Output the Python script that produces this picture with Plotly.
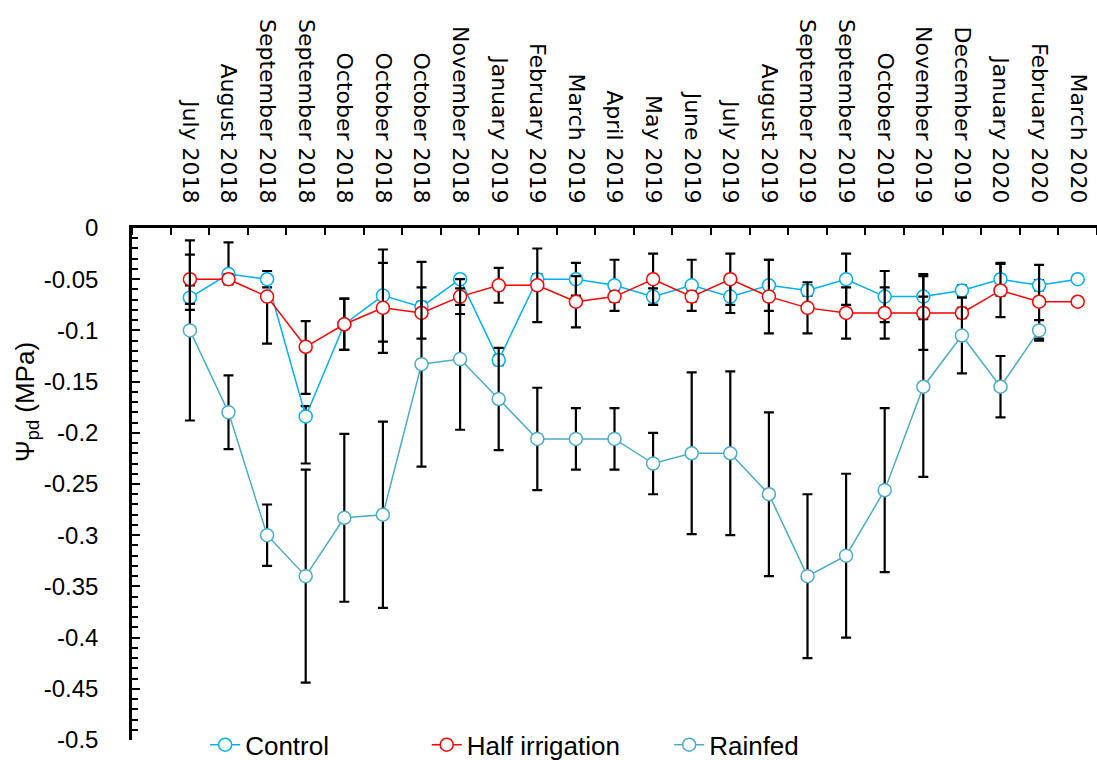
import plotly.graph_objects as go

# Sampling dates (several dates share the same month label)
dates = [
    "July 2018", "August 2018", "September 2018", "September 2018",
    "October 2018", "October 2018", "October 2018", "November 2018",
    "January 2019", "February 2019", "March 2019", "April 2019",
    "May 2019", "June 2019", "July 2019", "August 2019",
    "September 2019", "September 2019", "October 2019", "November 2019",
    "December 2019", "January 2020", "February 2020", "March 2020",
]

# Predawn water potential (MPa)
control = [-0.068, -0.045, -0.050, -0.184, -0.094, -0.066, -0.077, -0.050,
           -0.129, -0.050, -0.050, -0.056, -0.067, -0.056, -0.067, -0.056,
           -0.061, -0.050, -0.067, -0.067, -0.061, -0.050, -0.056, -0.050]
control_err_up = [0.012, 0.031, 0.008, 0.010, 0.025, 0.045, 0.005, 0.003,
                  0.005, 0.005, 0.016, 0.025, 0.008, 0.025, 0.016, 0.025,
                  0.005, 0.025, 0.025, 0.022, 0.005, 0.016, 0.005, 0.0]
control_err_down = [0.012, 0.003, 0.008, 0.046, 0.025, 0.045, 0.005, 0.025,
                    0.005, 0.005, 0.016, 0.025, 0.008, 0.025, 0.016, 0.025,
                    0.005, 0.025, 0.025, 0.022, 0.005, 0.016, 0.005, 0.0]

half_irrigation = [-0.050, -0.050, -0.067, -0.116, -0.094, -0.078, -0.083, -0.067,
                   -0.056, -0.056, -0.072, -0.067, -0.050, -0.067, -0.050, -0.067,
                   -0.078, -0.083, -0.083, -0.083, -0.083, -0.061, -0.072, -0.072]
half_err_up = [0.024, 0.005, 0.002, 0.025, 0.025, 0.044, 0.025, 0.017,
               0.017, 0.036, 0.025, 0.005, 0.025, 0.005, 0.025, 0.036,
               0.025, 0.025, 0.025, 0.036, 0.005, 0.026, 0.036, 0.0]
half_err_down = [0.024, 0.005, 0.046, 0.046, 0.025, 0.044, 0.025, 0.017,
                 0.017, 0.036, 0.025, 0.005, 0.025, 0.005, 0.025, 0.036,
                 0.025, 0.025, 0.025, 0.036, 0.005, 0.026, 0.036, 0.0]

rainfed = [-0.100, -0.180, -0.300, -0.340, -0.283, -0.280, -0.133, -0.128,
           -0.167, -0.206, -0.206, -0.206, -0.230, -0.220, -0.220, -0.260,
           -0.340, -0.320, -0.256, -0.155, -0.105, -0.155, -0.100, None]
rainfed_err = [0.088, 0.036, 0.030, 0.104, 0.082, 0.091, 0.100, 0.069,
               0.050, 0.050, 0.030, 0.030, 0.030, 0.079, 0.080, 0.080,
               0.080, 0.080, 0.080, 0.088, 0.037, 0.030, 0.010, None]

y_ticks = [0, -0.05, -0.1, -0.15, -0.2, -0.25, -0.3, -0.35, -0.4, -0.45, -0.5]
y_tick_text = ["0", "-0.05", "-0.1", "-0.15", "-0.2", "-0.25", "-0.3",
               "-0.35", "-0.4", "-0.45", "-0.5"]

x = list(range(len(dates)))

LABEL_FONT = "Liberation Sans, Arial, sans-serif"


def series(name, values, up, down, color, legend):
    return go.Scatter(
        x=x, y=values, name=name, mode="lines+markers",
        line=dict(color=color, width=1.5),
        marker=dict(symbol="circle", size=13, color="white",
                    line=dict(color=color, width=1.5)),
        error_y=dict(type="data", symmetric=False, array=up, arrayminus=down,
                     color="black", thickness=2.2, width=5),
        legend=legend, cliponaxis=False,
    )


fig = go.Figure()
fig.add_trace(series("Control", control, control_err_up, control_err_down,
                     "#00B0F0", "legend"))
fig.add_trace(series("Half irrigation", half_irrigation, half_err_up,
                     half_err_down, "#FF0000", "legend2"))
fig.add_trace(series("Rainfed", rainfed, rainfed_err, rainfed_err,
                     "#4BACC6", "legend3"))

# Legend entries sit side by side along the bottom edge of the page
legend_style = dict(orientation="h", xref="container", yref="container",
                    yanchor="middle", y=0.02, xanchor="left",
                    bgcolor="rgba(0,0,0,0)", borderwidth=0,
                    font=dict(family=LABEL_FONT, size=26, color="black"))

fig.update_layout(
    width=1097, height=760,
    margin=dict(l=132, r=0, t=228, b=20, autoexpand=False),
    paper_bgcolor="white", plot_bgcolor="white",
    showlegend=True,
    legend=dict(x=0.187, **legend_style),
    legend2=dict(x=0.389, **legend_style),
    legend3=dict(x=0.610, **legend_style),
    xaxis=dict(
        side="top", range=[-1.5, 23.5],
        tickmode="array", tickvals=x, ticktext=dates,
        tickangle=90, ticks="", ticklabelstandoff=14,
        tickfont=dict(family="DejaVu Sans, sans-serif", size=22, color="black"),
        showgrid=False, zeroline=False,
        showline=True, linecolor="black", linewidth=2.5,
        minor=dict(tick0=0.5, dtick=1, ticks="inside", ticklen=7,
                   tickwidth=1.5, tickcolor="black", showgrid=False),
    ),
    yaxis=dict(
        range=[-0.5, 0], tickmode="array", tickvals=y_ticks,
        ticktext=y_tick_text, ticks="inside", ticklen=8, tickwidth=1.5,
        tickcolor="black", ticklabelstandoff=26,
        tickfont=dict(family=LABEL_FONT, size=24, color="black"),
        showgrid=False, zeroline=False,
        showline=True, linecolor="black", linewidth=2.5,
        minor=dict(dtick=0.01, tick0=0, ticks="inside", ticklen=6,
                   tickwidth=1.5, tickcolor="black", showgrid=False),
    ),
    annotations=[dict(
        text="Ψ<sub>pd</sub> (MPa)", textangle=-90, showarrow=False,
        xref="paper", yref="paper", x=-0.110, y=0.66,
        xanchor="center", yanchor="middle",
        font=dict(family=LABEL_FONT, size=26, color="black"),
    )],
)

fig.write_html("out.html")
